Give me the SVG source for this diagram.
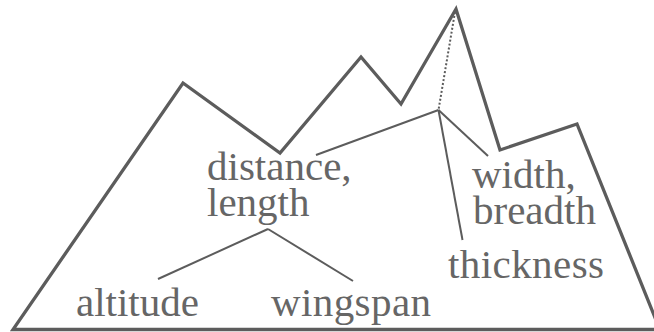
<svg xmlns="http://www.w3.org/2000/svg" width="654" height="332" viewBox="0 0 654 332">
<style>
.outline{fill:none;stroke:#5c5c5c;stroke-width:3.3;stroke-linejoin:miter}
.conn{fill:none;stroke:#5c5c5c;stroke-width:2}
.dot{fill:none;stroke:#5c5c5c;stroke-width:2;stroke-dasharray:2 2}
.lbl{font-family:"Liberation Serif","Times New Roman",serif;font-size:41px;fill:#666666}
</style>
<rect width="654" height="332" fill="#ffffff"/>
<g id="mountain">
<path class="outline" d="M660,329.5 H13 L183,83 L280,153 L361,57 L401,104 L456,9 L500,150 L577,124 L660,330"/>
</g>
<g id="connectors">
<path class="dot" d="M455,12 L438.5,110"/>
<path class="conn" d="M438.5,110 L316,155"/>
<path class="conn" d="M438.5,110 L488,156"/>
<path class="conn" d="M438.5,110 L462.5,240"/>
<path class="conn" d="M268,229 L158,279"/>
<path class="conn" d="M268,229 L353,281"/>
</g>
<g id="node-distance"><text class="lbl"><tspan x="207" y="180">distance,</tspan><tspan x="207" y="216">length</tspan></text></g>
<g id="node-width"><text class="lbl"><tspan x="472" y="188">width,</tspan><tspan x="473" y="224">breadth</tspan></text></g>
<g id="node-thickness"><text class="lbl" x="448" y="278" textLength="156">thickness</text></g>
<g id="node-altitude"><text class="lbl" x="76" y="316">altitude</text></g>
<g id="node-wingspan"><text class="lbl" x="271" y="316" textLength="160">wingspan</text></g>
</svg>
